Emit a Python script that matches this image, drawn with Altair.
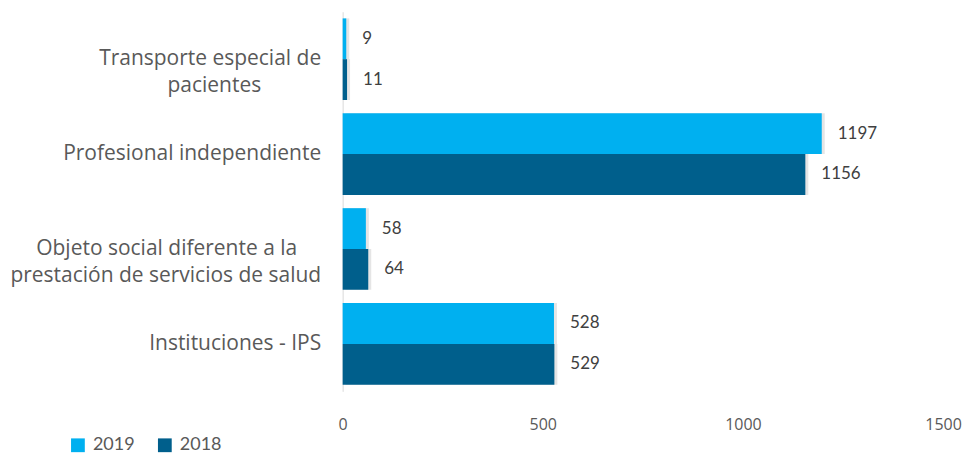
import altair as alt
import pandas as pd

categories = [
    "Transporte especial de pacientes",
    "Profesional independiente",
    "Objeto social diferente a la prestación de servicios de salud",
    "Instituciones - IPS",
]
FS = "\u2007"   # figure space, used only to centre the shorter wrapped line
ZW = "\u200b"
label_lines = {
    categories[0]: ["Transporte especial de", "pacientes" + FS * 5 + ZW],
    categories[2]: ["Objeto social diferente a la" + FS * 2 + ZW, "prestación de servicios de salud"],
}
years = ["2019", "2018"]
values_2019 = [9, 1197, 58, 528]
values_2018 = [11, 1156, 64, 529]
x_ticks = [0, 500, 1000, 1500]

rows = []
for c, v19, v18 in zip(categories, values_2019, values_2018):
    rows.append({"cat": c, "year": "2019", "value": v19})
    rows.append({"cat": c, "year": "2018", "value": v18})
df = pd.DataFrame(rows)


def js_list(lst):
    return "[" + ", ".join("'" + s + "'" for s in lst) + "]"


label_expr = ("datum.value == '" + categories[0] + "' ? " + js_list(label_lines[categories[0]]) +
              " : datum.value == '" + categories[2] + "' ? " + js_list(label_lines[categories[2]]) +
              " : datum.value")

y_enc = alt.Y("cat:N", sort=categories,
              scale=alt.Scale(paddingInner=0.14, paddingOuter=0.07),
              axis=alt.Axis(title=None, ticks=False, domain=True, domainColor="#D9D9D9",
                            labelFont="Open Sans", labelFontSize=21, labelColor="#595959",
                            labelPadding=22, labelLimit=400, labelExpr=label_expr,
                            labelLineHeight=27))
x_enc = alt.X("value:Q", scale=alt.Scale(domain=[0, 1500], nice=False),
              axis=alt.Axis(title=None, values=x_ticks, ticks=False, domain=False, grid=False,
                            format="d",
                            labelFont="Open Sans", labelFontSize=16, labelColor="#595959",
                            labelPadding=25, labelFlush=False))
yoff = alt.YOffset("year:N", sort=years, scale=alt.Scale(paddingInner=0, paddingOuter=0))

color = alt.Color("year:N", sort=years,
                  scale=alt.Scale(domain=years, range=["#00B0F0", "#005F8C"]),
                  legend=alt.Legend(title=None, orient="none", direction="horizontal",
                                    legendX=-274, legendY=425, symbolType="square",
                                    symbolSize=190, symbolStrokeWidth=0,
                                    labelFont="Lato", labelFontSize=18, labelColor="#595959",
                                    columnPadding=21, labelOffset=6, padding=0))

base = alt.Chart(df)
shadow = base.mark_bar(color="#000000", opacity=0.10, xOffset=3, yOffset=3).encode(
    y=y_enc, x=x_enc, yOffset=yoff)
bars = base.mark_bar().encode(y=y_enc, x=x_enc, yOffset=yoff, color=color)
text = base.mark_text(align="left", baseline="middle", dx=16, font="Lato", fontSize=17,
                      color="#404040").encode(
    y=y_enc, x=x_enc, yOffset=yoff, text=alt.Text("value:Q", format="d"))

chart = alt.layer(shadow, bars, text).properties(
    width=601, height=380,
    background="white",
    autosize=alt.AutoSizeParams(type="none"),
    padding={"left": 335, "top": 3.5, "right": 20, "bottom": 63},
).configure_view(stroke=None)

chart.save("out.html", embed_options={"renderer": "svg", "actions": False})
